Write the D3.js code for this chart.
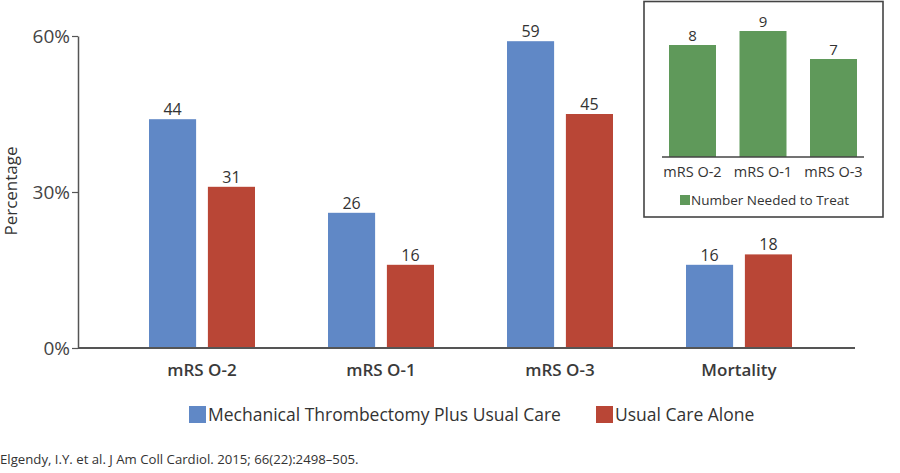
<!DOCTYPE html>
<html><head><meta charset="utf-8">
<script src="https://cdn.jsdelivr.net/npm/d3@7"></script>
<style>
body{margin:0;background:#fff;}
svg{display:block;font-family:"Open Sans",sans-serif;}
</style></head>
<body><svg id="c" width="900" height="473"></svg>
<script>
const categories = ["mRS 0-2","mRS 0-1","mRS 0-3","Mortality"];
const seriesNames = ["Mechanical Thrombectomy Plus Usual Care","Usual Care Alone"];
const thrombectomy = [44,26,59,16];
const usualCare = [31,16,45,18];
const yTicks = [0,30,60];
const insetCategories = ["mRS 0-2","mRS 0-1","mRS 0-3"];
const nntValues = [8,9,7];
const insetLegend = "Number Needed to Treat";
const colors = ["#6088c6","#b94636"];
const green = "#5f995a";

const svg = d3.select("#c");
const y = d3.scaleLinear().domain([0,60]).range([348,36]);
const x0 = d3.scaleBand().domain(categories).range([112.5,828.5]);
const x1 = d3.scaleBand().domain(seriesNames).range([36.5,142.5]).paddingInner(0.2);

// y axis
const yAxis = svg.append("g").attr("transform","translate(78,0)")
  .call(d3.axisLeft(y).tickValues(yTicks).tickFormat(d=>d+"%").tickSize(6).tickSizeOuter(0));
yAxis.select(".domain").attr("stroke","#555").attr("stroke-width",1.5);
yAxis.selectAll(".tick line").attr("stroke","#555").attr("stroke-width",1.2);
yAxis.selectAll(".tick text").attr("font-size",19).attr("fill","#444").attr("x",-8)
  .attr("font-family","Open Sans");

svg.append("text").attr("transform","translate(17,191) rotate(-90)")
  .attr("text-anchor","middle").attr("font-size",17).attr("fill","#333").text("Percentage");

// bars
const data = categories.map((c,i)=>({c, vals:[thrombectomy[i],usualCare[i]]}));
const g = svg.append("g");
data.forEach(d=>{
  d.vals.forEach((v,j)=>{
    const xx = x0(d.c)+x1(seriesNames[j]);
    g.append("rect").attr("x",xx).attr("y",y(v)).attr("width",x1.bandwidth())
      .attr("height",y(0)-y(v)).attr("fill",colors[j]);
    g.append("text").attr("x",xx+x1.bandwidth()/2).attr("y",y(v)-4)
      .attr("text-anchor","middle").attr("font-size",16).attr("fill","#333").text(v);
  });
  svg.append("text").attr("x",x0(d.c)+89.5).attr("y",376).attr("text-anchor","middle")
    .attr("font-size",17).attr("font-weight",600).attr("fill","#3a3a3a").text(d.c.replace(/0/g,"O"));
});

// x baseline
svg.append("line").attr("x1",78).attr("x2",855).attr("y1",y(0)).attr("y2",y(0))
  .attr("stroke","#555").attr("stroke-width",1.8);

// legend
const leg = [{x:189},{x:596}];
seriesNames.forEach((s,j)=>{
  svg.append("rect").attr("x",leg[j].x).attr("y",406).attr("width",17).attr("height",17).attr("fill",colors[j]);
  svg.append("text").attr("x",leg[j].x+19).attr("y",421).attr("font-size",17.5).attr("fill","#333").text(s);
});

// footnote
svg.append("text").attr("x",0).attr("y",464).attr("font-size",13.2).attr("fill","#333")
  .text("Elgendy, I.Y. et al. J Am Coll Cardiol. 2015; 66(22):2498\u2013505.");

// inset
svg.append("rect").attr("x",644).attr("y",1.5).attr("width",239).attr("height",215.5)
  .attr("fill","#fff").attr("stroke","#444").attr("stroke-width",1.6);
const iy = d3.scaleLinear().domain([0,10]).range([157,17]);
const ix = d3.scaleBand().domain(insetCategories).range([657.25,868.75]).paddingInner(1/3).paddingOuter(1/6);
insetCategories.forEach((c,i)=>{
  const v = nntValues[i];
  svg.append("rect").attr("x",ix(c)).attr("y",iy(v)).attr("width",ix.bandwidth())
    .attr("height",iy(0)-iy(v)).attr("fill",green);
  svg.append("text").attr("x",ix(c)+ix.bandwidth()/2).attr("y",iy(v)-4).attr("text-anchor","middle")
    .attr("font-size",15).attr("fill","#333").text(v);
  svg.append("text").attr("x",ix(c)+ix.bandwidth()/2).attr("y",177).attr("text-anchor","middle")
    .attr("font-size",14.5).attr("fill","#333").text(c.replace(/0/g,"O"));
});
svg.append("line").attr("x1",662).attr("x2",864).attr("y1",iy(0)).attr("y2",iy(0))
  .attr("stroke","#444").attr("stroke-width",1.5);
svg.append("rect").attr("x",680).attr("y",195).attr("width",10).attr("height",10).attr("fill",green);
svg.append("text").attr("x",691).attr("y",205).attr("font-size",13.5).attr("fill","#333").text(insetLegend);
</script></body></html>
